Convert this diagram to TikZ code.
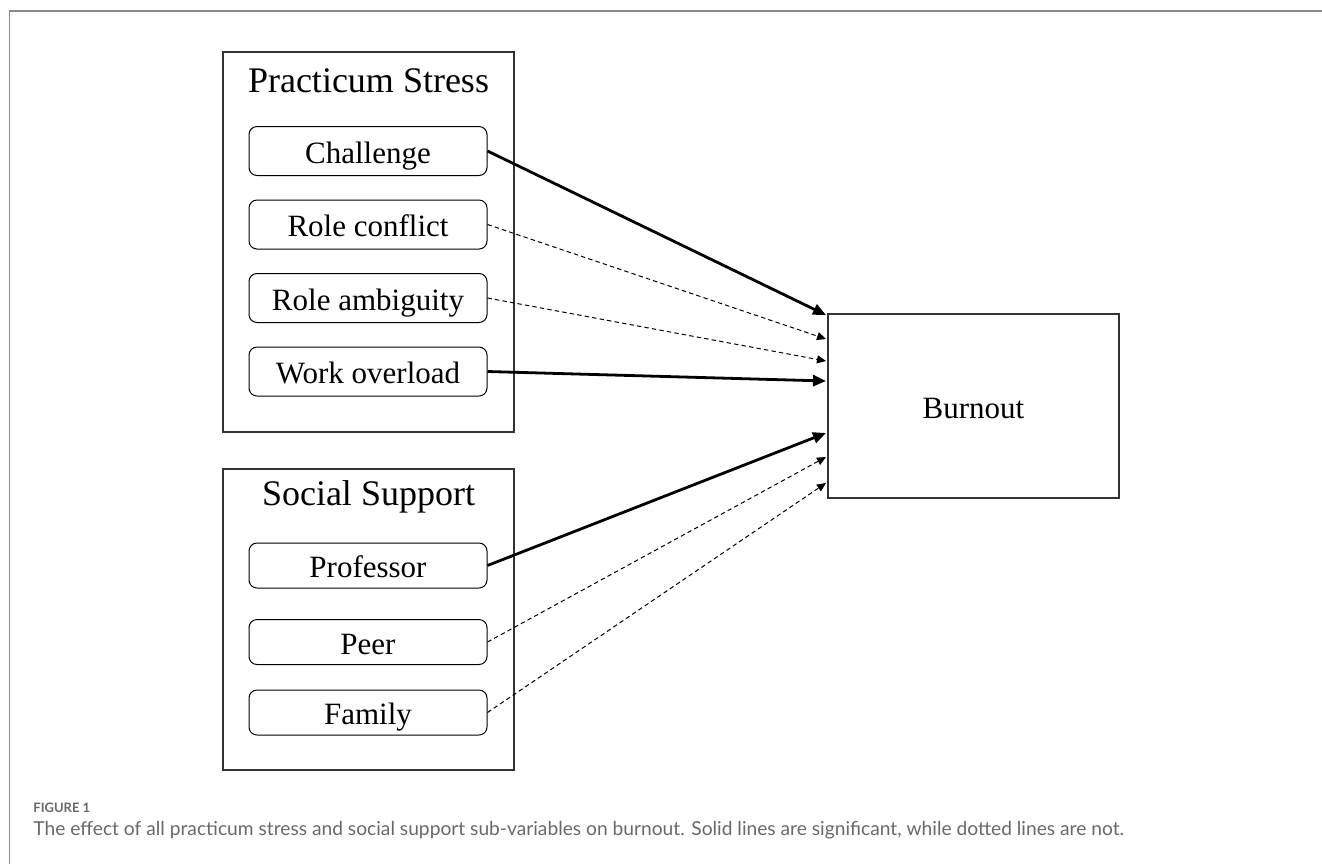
\documentclass[tikz,border=0pt]{standalone}
\usepackage{fontspec}
\setmainfont{Liberation Serif}
\newfontfamily\captionfont{Lato}
\usetikzlibrary{arrows.meta}

\definecolor{framegray}{RGB}{138,138,138}
\definecolor{captiongray}{RGB}{105,105,105}

\tikzset{
  groupbox/.style={draw=black!80, line width=0.6pt, inner sep=0pt, minimum width=145.5pt},
  grouptitle/.style={anchor=base, font=\fontsize{18}{21}\selectfont},
  itembox/.style={draw, rounded corners=4pt, line width=0.5pt, minimum width=119pt,
    text height=12pt, text depth=0pt, font=\fontsize{15.5}{18}\selectfont},
  sig/.style={line width=1.4pt, -{Triangle[length=6.5pt,width=5.5pt]}},
  nonsig/.style={line width=0.5pt, dash pattern=on 2.2pt off 1.6pt, -{Triangle[length=4.5pt,width=4pt]}},
  captiontext/.style={anchor=base west, inner sep=0pt, text=captiongray}
}

\begin{document}
\begin{tikzpicture}[x=0.5pt, y=-0.5pt]
\useasboundingbox (0,0) rectangle (1322,864);

% Outer frame
\draw[framegray, line width=0.7pt] (9.5,864) -- (9.5,11) -- (1322,11);

% Practicum stress group
\node[groupbox, minimum height=190pt] (stress) at (368.5,242) {};
\node[grouptitle] (stresstitle) at (368.5,92) {Practicum Stress};
\node[itembox, minimum height=24.5pt] (chal) at (368,151) {Challenge};
\node[itembox, minimum height=24.5pt] (conf) at (368,224.5) {Role conflict};
\node[itembox, minimum height=24.5pt] (ambi) at (368,298) {Role ambiguity};
\node[itembox, minimum height=24.5pt] (load) at (368,371.5) {Work overload};

% Social support group
\node[groupbox, minimum height=150.5pt] (support) at (368.5,619.5) {};
\node[grouptitle] (supporttitle) at (368.5,505) {Social Support};
\node[itembox, minimum height=22.5pt] (prof) at (368,565.5) {Professor};
\node[itembox, minimum height=22.5pt] (peer) at (368,642) {Peer};
\node[itembox, minimum height=22.5pt] (fam) at (368,712.5) {Family};

% Outcome
\node[draw=black!80, line width=0.6pt, minimum width=145.5pt, minimum height=92pt,
  text height=12pt, text depth=0pt, font=\fontsize{15.5}{18}\selectfont] (burn) at (973.5,406) {Burnout};

% Arrow ends on the left side of burnout
\coordinate (in1) at (826,315);
\coordinate (in2) at (826,339);
\coordinate (in3) at (826,361);
\coordinate (in4) at (826,381);
\coordinate (in5) at (826,433);
\coordinate (in6) at (826,457);
\coordinate (in7) at (826,483);

\draw[sig] (chal.east) -- (in1);
\draw[nonsig] (conf.east) -- (in2);
\draw[nonsig] (ambi.east) -- (in3);
\draw[sig] (load.east) -- (in4);
\draw[sig] (prof.east) -- (in5);
\draw[nonsig] (peer.east) -- (in6);
\draw[nonsig] (fam.east) -- (in7);

% Caption
\node[captiontext, font=\captionfont\bfseries\fontsize{6.5}{8}\selectfont] (figlabel) at (33,812) {FIGURE 1};
\node[captiontext, font=\captionfont\fontsize{9.6}{11}\selectfont] (figcaption) at (33,835)
  {The effect of all practicum stress and social support sub-variables on burnout. Solid lines are significant, while dotted lines are not.};

\end{tikzpicture}
\end{document}
